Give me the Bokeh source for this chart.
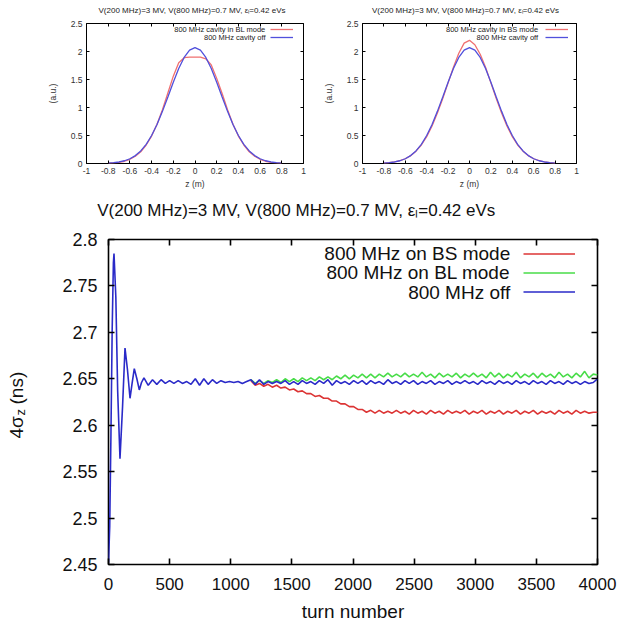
import math
from bokeh.plotting import figure
from bokeh.layouts import column, row
from bokeh.models import (LinearAxis, FixedTicker, CustomJSTickFormatter, Range1d,
                          Label, Legend, LegendItem)
from bokeh.embed import file_html
from bokeh.resources import INLINE

FONT = "Liberation Sans"

# ---------------- top panels: bunch profiles ----------------
z_m = [-0.8, -0.75, -0.7, -0.65, -0.6, -0.55, -0.5, -0.45, -0.4, -0.35, -0.3, -0.25,
       -0.2, -0.15, -0.1, -0.05, 0.0, 0.05, 0.1, 0.15, 0.2, 0.25, 0.3, 0.35, 0.4,
       0.45, 0.5, 0.55, 0.6, 0.65, 0.7, 0.75, 0.8]
profile_off = [0.007, 0.014, 0.027, 0.049, 0.085, 0.141, 0.225, 0.343, 0.500, 0.697, 0.931, 1.188,
               1.451, 1.695, 1.894, 2.024, 2.070, 2.024, 1.894, 1.695, 1.451, 1.188, 0.931, 0.697,
               0.500, 0.343, 0.225, 0.141, 0.085, 0.049, 0.027, 0.014, 0.007]
profile_bl = [0.005, 0.010, 0.020, 0.040, 0.075, 0.130, 0.210, 0.330, 0.490, 0.700, 0.960, 1.260,
              1.560, 1.800, 1.890, 1.900, 1.900, 1.900, 1.870, 1.760, 1.520, 1.250, 0.960, 0.700,
              0.490, 0.330, 0.210, 0.130, 0.075, 0.040, 0.020, 0.010, 0.005]
profile_bs = [0.007, 0.015, 0.028, 0.050, 0.085, 0.140, 0.220, 0.330, 0.480, 0.670, 0.900, 1.160,
              1.440, 1.720, 1.970, 2.150, 2.200, 2.120, 1.950, 1.720, 1.440, 1.160, 0.900, 0.670,
              0.480, 0.330, 0.220, 0.140, 0.085, 0.050, 0.028, 0.015, 0.007]
z_ticks = [-1, -0.8, -0.6, -0.4, -0.2, 0, 0.2, 0.4, 0.6, 0.8, 1]
au_ticks = [0, 0.5, 1, 1.5, 2, 2.5]
top_title = "V(200 MHz)=3 MV, V(800 MHz)=0.7 MV, \u03b5\u2097=0.42 eVs"
left_labels = ["800 MHz cavity in BL mode", "800 MHz cavity off"]
right_labels = ["800 MHz cavity in BS mode", "800 MHz cavity off"]

# ---------------- bottom panel: bunch length vs turn ----------------
turns_start = [0, 10, 20, 30, 40, 45, 60, 75, 94, 115, 135, 155, 176, 193, 211, 232, 252, 270]
sigma_off_start = [2.452, 2.491, 2.590, 2.702, 2.775, 2.785, 2.738, 2.637, 2.564, 2.620, 2.683,
                   2.660, 2.629, 2.645, 2.661, 2.650, 2.638, 2.646]
turns_tail = list(range(290, 4001, 35))
sigma_off_tail = [
    2.651, 2.643, 2.649, 2.644, 2.649, 2.645, 2.648, 2.645, 2.648, 2.645,
    2.647, 2.644, 2.650, 2.643, 2.650, 2.644, 2.649, 2.645, 2.648, 2.646,
    2.647, 2.646, 2.647, 2.645, 2.647, 2.649, 2.644, 2.649, 2.644, 2.647,
    2.645, 2.647, 2.645, 2.648, 2.644, 2.647, 2.644, 2.648, 2.645, 2.647,
    2.644, 2.648, 2.645, 2.649, 2.643, 2.648, 2.645, 2.647, 2.644, 2.648,
    2.645, 2.648, 2.644, 2.648, 2.645, 2.647, 2.644, 2.649, 2.645, 2.647,
    2.644, 2.648, 2.645, 2.648, 2.644, 2.647, 2.645, 2.648, 2.644, 2.647,
    2.645, 2.648, 2.644, 2.647, 2.645, 2.648, 2.645, 2.647, 2.644, 2.648,
    2.645, 2.647, 2.644, 2.648, 2.645, 2.647, 2.644, 2.648, 2.645, 2.647,
    2.644, 2.648, 2.645, 2.647, 2.644, 2.648, 2.645, 2.647, 2.644, 2.648,
    2.645, 2.647, 2.644, 2.647, 2.645, 2.646, 2.650]
split_index = 25  # turn 1165, where the 800 MHz cases start to differ
sigma_bs = [
    2.648, 2.643, 2.645, 2.642, 2.644, 2.641, 2.643, 2.640, 2.641, 2.638,
    2.639, 2.636, 2.637, 2.634, 2.634, 2.631, 2.632, 2.629, 2.629, 2.626,
    2.626, 2.623, 2.623, 2.620, 2.620, 2.617, 2.617, 2.614, 2.616, 2.613,
    2.616, 2.613, 2.615, 2.613, 2.616, 2.613, 2.615, 2.612, 2.616, 2.613,
    2.615, 2.612, 2.616, 2.613, 2.615, 2.612, 2.616, 2.613, 2.615, 2.613,
    2.616, 2.612, 2.615, 2.613, 2.616, 2.612, 2.615, 2.613, 2.616, 2.612,
    2.615, 2.613, 2.616, 2.612, 2.615, 2.613, 2.616, 2.612, 2.615, 2.613,
    2.615, 2.612, 2.616, 2.613, 2.615, 2.612, 2.616, 2.613, 2.615, 2.613,
    2.614, 2.614]
sigma_bl = [
    2.649, 2.645, 2.648, 2.645, 2.648, 2.646, 2.649, 2.646, 2.650, 2.647,
    2.650, 2.647, 2.651, 2.648, 2.651, 2.648, 2.652, 2.649, 2.652, 2.649,
    2.653, 2.650, 2.654, 2.650, 2.654, 2.651, 2.655, 2.651, 2.655, 2.651,
    2.655, 2.652, 2.656, 2.652, 2.655, 2.652, 2.656, 2.652, 2.655, 2.652,
    2.657, 2.652, 2.655, 2.651, 2.656, 2.652, 2.655, 2.652, 2.656, 2.651,
    2.655, 2.652, 2.656, 2.652, 2.655, 2.651, 2.657, 2.652, 2.656, 2.651,
    2.655, 2.652, 2.657, 2.651, 2.655, 2.652, 2.656, 2.651, 2.656, 2.652,
    2.655, 2.651, 2.657, 2.652, 2.655, 2.651, 2.656, 2.652, 2.658, 2.651,
    2.655, 2.654]
turn_ticks = [0, 500, 1000, 1500, 2000, 2500, 3000, 3500, 4000]
sigma_ticks = [2.45, 2.5, 2.55, 2.6, 2.65, 2.7, 2.75, 2.8]
bottom_title = "V(200 MHz)=3 MV, V(800 MHz)=0.7 MV, \u03b5\u2097=0.42 eVs"
bottom_labels = ["800 MHz on BS mode", "800 MHz on BL mode", "800 MHz off"]

turns_off = turns_start + turns_tail
sigma_off = sigma_off_start + sigma_off_tail
turns_split = turns_tail[split_index:]


def style_frame(p, xticks, yticks, tick_len, tick_font_x, tick_font_y, sx, sy, lw, color):
    fmt_code = "return String(Math.round(tick * 1000) / 1000);"
    xa, ya = p.below[0], p.left[0]
    for ax, ticks, fs, so in ((xa, xticks, tick_font_x, sx), (ya, yticks, tick_font_y, sy)):
        ax.ticker = FixedTicker(ticks=ticks)
        ax.formatter = CustomJSTickFormatter(code=fmt_code)
        ax.major_tick_in = tick_len
        ax.major_tick_out = 0
        ax.minor_tick_line_color = None
        ax.axis_line_color = None
        ax.major_tick_line_width = lw
        ax.major_tick_line_color = "black"
        ax.major_label_text_font = FONT
        ax.major_label_text_font_size = f"{fs}px"
        ax.major_label_text_color = color
        ax.major_label_standoff = so
        ax.axis_label_text_font = FONT
        ax.axis_label_text_font_style = "normal"
        ax.axis_label_text_color = color
    for loc, ticks in (("above", xticks), ("right", yticks)):
        m = LinearAxis(ticker=FixedTicker(ticks=ticks),
                       formatter=CustomJSTickFormatter(code="return '';"),
                       major_tick_in=tick_len, major_tick_out=0,
                       minor_tick_line_color=None, axis_line_color=None,
                       major_label_text_font_size="0px", major_label_standoff=0,
                       major_tick_line_width=lw, major_tick_line_color="black")
        p.add_layout(m, loc)
    p.outline_line_color = "black"
    p.outline_line_width = lw
    p.xgrid.visible = False
    p.ygrid.visible = False
    p.background_fill_color = "white"
    p.border_fill_color = "white"
    return xa, ya


def glyph_legend(p, renderers, loc, gw, gh):
    items = [LegendItem(label=" ", renderers=[r]) for r in renderers]
    leg = Legend(items=items, location=loc, glyph_width=gw, glyph_height=gh,
                 label_height=gh, label_width=0, label_standoff=0, spacing=0,
                 padding=0, margin=0, border_line_color=None,
                 background_fill_alpha=0, label_text_font_size="1px")
    p.add_layout(leg)


def text_strip(width, height):
    """Blank figure whose frame spans the whole canvas: 1 data unit = 1 pixel."""
    f = figure(width=width, height=height, x_range=Range1d(0, width), y_range=Range1d(0, height),
               x_axis_type=None, y_axis_type=None, output_backend="svg", toolbar_location=None,
               min_border_left=0, min_border_right=0, min_border_top=0, min_border_bottom=0,
               frame_align=False)
    f.outline_line_color = None
    f.background_fill_color = "white"
    f.border_fill_color = "white"
    return f


def profile_panel(width, bl, br, red_profile, labels, legend_loc, text_x, title_x):
    strip = text_strip(width, 18)
    strip.add_layout(Label(x=title_x, y=7.7, text=top_title, text_align="center",
                           text_baseline="middle", text_font=FONT, text_font_size="8px",
                           text_color="#222222"))
    p = figure(width=width, height=174, x_range=Range1d(-1, 1), y_range=Range1d(0, 2.5),
               output_backend="svg", toolbar_location=None, frame_align=False,
               min_border_left=bl, min_border_right=br, min_border_top=5, min_border_bottom=29)
    xa, ya = style_frame(p, z_ticks, au_ticks, 3, 8.5, 8.5, 4, 4, 1, "#333333")
    xa.axis_label = "z (m)"
    xa.axis_label_text_font_size = "8.5px"
    xa.axis_label_standoff = 2
    ya.axis_label = "(a.u.)"
    ya.axis_label_text_font_size = "8.5px"
    ya.axis_label_standoff = 10
    r_red = p.line(z_m, red_profile, line_color="#f07070", line_width=1.3)
    r_blue = p.line(z_m, profile_off, line_color="#5050dc", line_width=1.3)
    glyph_legend(p, [r_red, r_blue], legend_loc, 23, 8)
    for lab, yv in zip(labels, [2.393, 2.25]):
        p.add_layout(Label(x=text_x, y=yv, text=lab, text_align="right", text_baseline="middle",
                           text_font=FONT, text_font_size="7.5px", text_color="#222222"))
    return column(strip, p)


top_left = profile_panel(320, 86, 17, profile_bl, left_labels, (184, 122), 0.650, 191.5)
top_right = profile_panel(300, 39, 44, profile_bs, right_labels, (183, 122), 0.641, 145)

# bottom title strip
t3 = text_strip(590, 30)
t3.add_layout(Label(x=66.7, y=12, text=bottom_title, text_align="left", text_baseline="middle",
                    text_font=FONT, text_font_size="17px", text_color="#111111"))

p3 = figure(width=590, height=404, x_range=Range1d(0, 4000), y_range=Range1d(2.45, 2.8),
            output_backend="svg", toolbar_location=None, frame_align=False,
            min_border_left=78, min_border_right=23, min_border_top=17, min_border_bottom=62)
xa3, ya3 = style_frame(p3, turn_ticks, sigma_ticks, 6, 17, 18, 13, 11, 1.6, "#111111")
xa3.axis_label = "turn number"
xa3.axis_label_text_font_size = "19px"
xa3.axis_label_standoff = 8

r_bs = p3.line(turns_split, sigma_bs, line_color="#dc3434", line_width=1.6)
r_bl = p3.line(turns_split, sigma_bl, line_color="#48dc48", line_width=1.6)
r_off = p3.line(turns_off, sigma_off, line_color="#2a2ac8", line_width=1.6)
glyph_legend(p3, [r_bs, r_bl, r_off], (415, 263), 52, 19)
for lab, yv in zip(bottom_labels, [2.7846, 2.7641, 2.7432]):
    p3.add_layout(Label(x=3286, y=yv, text=lab, text_align="right", text_baseline="middle",
                        text_font=FONT, text_font_size="19px", text_color="#111111"))

# y-axis label 4σ_z (ns) in a narrow strip left of the bottom panel (subscript composed)
ylab = text_strip(30, 434)
ylab.add_layout(Label(x=15.5, y=188, text="4\u03c3", angle=math.pi / 2, text_align="left",
                      text_baseline="middle", text_font=FONT, text_font_size="19px",
                      text_color="#111111"))
ylab.add_layout(Label(x=19.5, y=211, text="z", angle=math.pi / 2, text_align="left",
                      text_baseline="middle", text_font=FONT, text_font_size="13px",
                      text_color="#111111"))
ylab.add_layout(Label(x=15.5, y=222, text="(ns)", angle=math.pi / 2, text_align="left",
                      text_baseline="middle", text_font=FONT, text_font_size="19px",
                      text_color="#111111"))

layout = column(row(top_left, top_right), row(ylab, column(t3, p3)))
open("out.html", "w").write(file_html(layout, INLINE))
